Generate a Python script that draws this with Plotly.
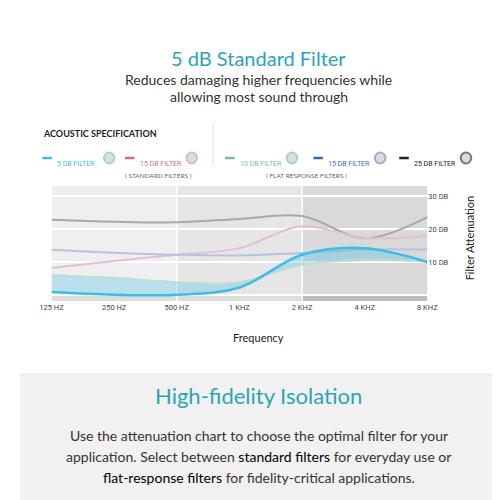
import plotly.graph_objects as go

# --- data ---
freqs = ["125 HZ", "250 HZ", "500 HZ", "1 KHZ", "2 KHZ", "4 KHZ", "8 KHZ"]
db_25_flat = [22.8, 22.2, 22.0, 23.0, 23.9, 17.2, 23.6]
db_15_std = [8.2, 10.3, 12.2, 14.2, 20.8, 17.3, 17.9]
db_15_flat = [13.7, 12.8, 12.2, 12.0, 12.7, 13.8, 13.8]
db_10_flat = [6.0, 5.2, 3.9, 3.9, 9.2, 10.5, 10.2]
db_5_std = [0.9, 0.1, 0.1, 2.3, 12.2, 14.2, 10.0]
y_ticks = [10, 20, 30]

x = list(range(len(freqs)))
FONT = "Lato"
TEAL = "#2aa5b8"

fig = go.Figure()

# background bands
fig.add_shape(type="rect", xref="x", yref="y", x0=0, x1=6, y0=0, y1=33,
              fillcolor="#efefef", line_width=0, layer="below")
fig.add_shape(type="rect", xref="x", yref="y", x0=2, x1=4, y0=0, y1=33,
              fillcolor="#e6e6e6", line_width=0, layer="below")
fig.add_shape(type="rect", xref="x", yref="y", x0=4, x1=6, y0=0, y1=33,
              fillcolor="#d9d9d9", line_width=0, layer="below")
fig.add_shape(type="rect", xref="x", yref="y", x0=0, x1=6, y0=-1.8, y1=0,
              fillcolor="#dddddd", line_width=0, layer="below")
fig.add_shape(type="rect", xref="x", yref="y", x0=4, x1=6, y0=-1.8, y1=0,
              fillcolor="#bdbdbd", line_width=0, layer="below")
for xv in [2, 4]:
    fig.add_shape(type="line", xref="x", yref="y", x0=xv, x1=xv, y0=-1.8, y1=33,
                  line=dict(color="white", width=1.5), layer="below")

series = [
    (db_25_flat, "#a8a8a8"),
    (db_15_std, "#e2bfd6"),
    (db_15_flat, "#b7c3dc"),
]
for vals, col in series:
    fig.add_trace(go.Scatter(x=x, y=vals, mode="lines", line=dict(color=col, width=2, shape="spline"),
                             showlegend=False, hoverinfo="skip"))

fig.add_trace(go.Scatter(x=x, y=[0] * len(x), mode="lines", line=dict(color="white", width=2),
                         showlegend=False, hoverinfo="skip"))
fig.add_trace(go.Scatter(x=x, y=db_10_flat, mode="lines", line=dict(color="#bfdcd6", width=2, shape="spline"),
                         showlegend=False, hoverinfo="skip"))
fig.add_trace(go.Scatter(x=x, y=db_5_std, mode="lines", fill="tonexty",
                         fillcolor="rgba(60,190,230,0.3)",
                         line=dict(color="#3bbde6", width=2.5, shape="spline"),
                         showlegend=False, hoverinfo="skip"))

fig.update_layout(
    width=500, height=500, margin=dict(l=0, r=0, t=0, b=0),
    paper_bgcolor="white", plot_bgcolor="rgba(0,0,0,0)",
    font=dict(family=FONT, color="#333"),
    xaxis=dict(domain=[0.066, 0.854], range=[0, 6], tickvals=x, ticktext=freqs,
               showgrid=False, zeroline=False, tickfont=dict(size=7.5, color="#444", family="Roboto"),
               ticks="", ticklen=4),
    yaxis=dict(domain=[0.414, 0.644], range=[-1.8, 33], side="right", tickvals=y_ticks,
               ticktext=[f"{v} DB" for v in y_ticks], gridcolor="white", gridwidth=1.5,
               zeroline=False, tickfont=dict(size=7.5, color="#444", family="Roboto")),
)

# gray bottom panel
fig.add_shape(type="rect", xref="paper", yref="paper", x0=0, x1=1, y0=0, y1=0.27,
              fillcolor="#f1f1f1", line_width=0, layer="below")
fig.add_shape(type="line", xref="paper", yref="paper", x0=0.405, x1=0.405, y0=0.685, y1=0.77,
              line=dict(color="#dddddd", width=1))

def txt(xp, yp, s, size, color="#333", **kw):
    fig.add_annotation(x=xp, y=yp, xref="paper", yref="paper", text=s, showarrow=False,
                       font=dict(size=size, color=color, family=kw.pop("family", FONT)), **kw)

txt(0.5, 0.928, "5 dB Standard Filter", 20, TEAL)
txt(0.5, 0.878, "Reduces damaging higher frequencies while", 14, "#333")
txt(0.5, 0.845, "allowing most sound through", 14, "#333")
txt(0.045, 0.764, "<b>ACOUSTIC SPECIFICATION</b>", 9, "#222", xanchor="left")

legend = [
    (0.047, "5 DB FILTER", "#3bbde6", "#9fd7e0"),
    (0.22, "15 DB FILTER", "#c66aa0", "#d7b9c8"),
    (0.43, "10 DB FILTER", "#7fb8a6", "#a5d6c9"),
    (0.615, "15 DB FILTER", "#3a66c4", "#a8a8d8"),
    (0.795, "25 DB FILTER", "#222222", "#777777"),
]
for xp, lab, col, ring in legend:
    fig.add_shape(type="line", xref="paper", yref="paper", x0=xp, x1=xp + 0.02, y0=0.7, y1=0.7,
                  line=dict(color=col, width=2.5))
    txt(xp + 0.027, 0.7, lab, 7, col, xanchor="left", family="Roboto")
    cx = xp + 0.14
    fig.add_shape(type="circle", xref="paper", yref="paper", x0=cx - 0.011, x1=cx + 0.011,
                  y0=0.689, y1=0.711, fillcolor="#dcdcdc", line=dict(color=ring, width=2))
txt(0.215, 0.664, "( STANDARD FILTERS )", 6.5, "#666")
txt(0.69, 0.664, "( FLAT RESPONSE FILTERS )", 6.5, "#666")

txt(0.5, 0.34, "Frequency", 11, "#222")
txt(0.962, 0.54, "Filter Attenuation", 11, "#222", textangle=-90)

txt(0.5, 0.193, "High-fidelity Isolation", 22, TEAL)
txt(0.5, 0.124, "Use the attenuation chart to choose the optimal filter for your", 14, "#333")
txt(0.5, 0.082, "application. Select between <span style='color:#000'>standard filters</span> for everyday use or", 14, "#333")
txt(0.5, 0.040, "<span style='color:#000'>flat-response filters</span> for fidelity-critical applications.", 14, "#333")

fig.write_html("out.html")
